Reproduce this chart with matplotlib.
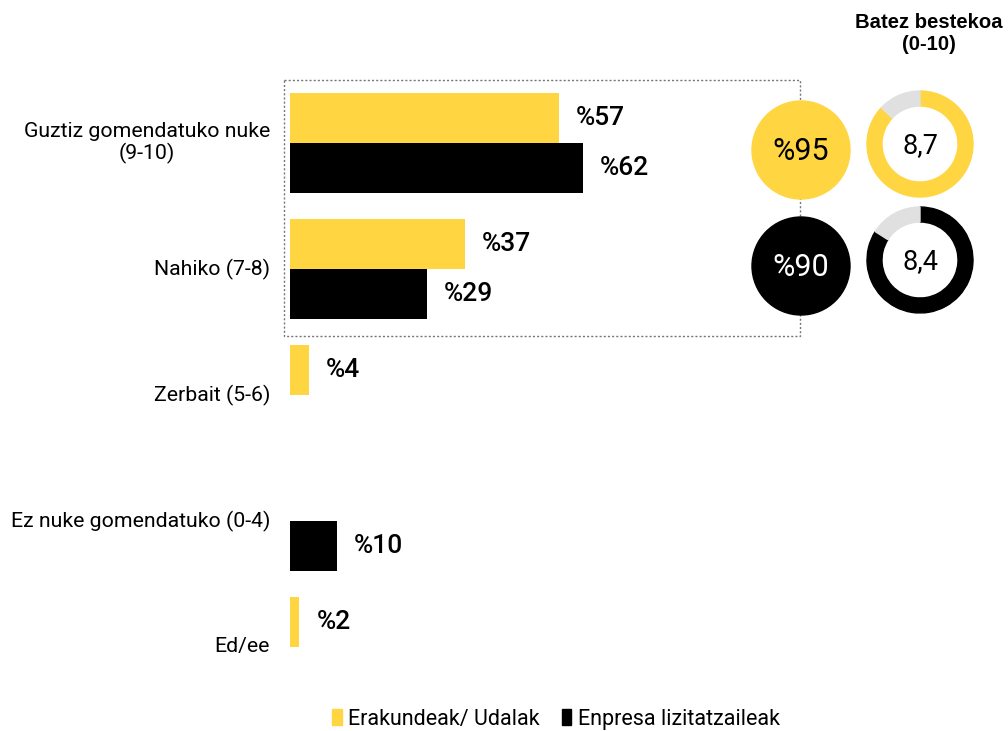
import matplotlib.pyplot as plt
from matplotlib.patches import Patch, Rectangle, Circle, Wedge

categories = ['Guztiz gomendatuko nuke\n(9-10)', 'Nahiko (7-8)', 'Zerbait (5-6)',
              'Ez nuke gomendatuko (0-4)', 'Ed/ee']
series_names = ['Erakundeak/ Udalak', 'Enpresa lizitatzaileak']
erakundeak = [57, 37, 4, 0, 2]
enpresak = [62, 29, 0, 10, 0]
totals = [95, 90]          # gomendatuko (7-10) guztira
averages = [8.7, 8.4]      # batez bestekoa (0-10)

YELLOW = '#ffd641'
BLACK = '#000000'
GREY = '#e0e0e0'

plt.rcParams['font.family'] = ['Roboto', 'DejaVu Sans']

W, H = 1008, 731
fig = plt.figure(figsize=(W / 100, H / 100), dpi=100)

# pixel-space axes for the box, circles and donuts (behind the bars)
cax = fig.add_axes([0, 0, 1, 1], facecolor='none', zorder=0)
cax.set_xlim(0, W)
cax.set_ylim(H, 0)
cax.axis('off')

# bars axes: x from pixel 290 to the right edge, y covers whole height
px_per_pct = 4.72
row_px = 126.0
ax = fig.add_axes([290 / W, 0, 1 - 290 / W, 1], facecolor='none', zorder=1)
ax.set_xlim(0, (W - 290) / px_per_pct)
ax.set_ylim((H - 143) / row_px, -143 / row_px)
ax.axis('off')

bar_h = 50 / row_px
for i, cat in enumerate(categories):
    for val, col, off in ((erakundeak[i], YELLOW, -bar_h / 2), (enpresak[i], BLACK, bar_h / 2)):
        if val <= 0:
            continue
        ax.barh(i + off, val, height=bar_h, color=col)
        ax.text(val + 17 / px_per_pct, i + off, f'%{val}', ha='left', va='center',
                fontsize=19, fontweight='medium', color='black')
    ax.text(-20 / px_per_pct, i, cat, ha='right', va='center', multialignment='center',
            fontsize=15.3, color='black', clip_on=False, linespacing=1.15)

# dotted box around the first two groups
cax.add_patch(Rectangle((284, 80), 800 - 284, 336 - 80, fill=False, edgecolor='#777777',
                        linestyle=(0, (1.5, 1.5)), linewidth=1.0, zorder=1))

circle_y = [150, 266]
colors = [YELLOW, BLACK]
text_cols = ['black', 'white']
for k in range(2):
    cax.add_patch(Circle((801, circle_y[k]), 49, color=colors[k], zorder=2))
    cax.text(801, circle_y[k] + 1, f'%{totals[k]}', ha='center', va='center',
             fontsize=22, fontweight='normal', color=text_cols[k], zorder=3)
    frac = averages[k] / 10
    cy = circle_y[k] - 6
    # y axis is flipped, so angles run clockwise; top is -90
    start = -90
    cax.add_patch(Wedge((920, cy), 53, start, start + 360 * frac, width=15,
                        color=colors[k], zorder=2))
    cax.add_patch(Wedge((920, cy), 53, start + 360 * frac, start + 360, width=15,
                        color=GREY, zorder=2))
    cax.text(920, cy + 2, f'{averages[k]:.1f}'.replace('.', ','), ha='center', va='center',
             fontsize=19.5, color='black', zorder=3)

cax.text(929, 33, 'Batez bestekoa\n(0-10)', ha='center', va='center', fontsize=14.6,
         fontweight='bold', family=['Liberation Sans', 'DejaVu Sans'], linespacing=1.2)

handles = [Patch(color=YELLOW), Patch(color=BLACK)]
fig.legend(handles, series_names, loc='center', bbox_to_anchor=(556 / W, 1 - 719 / H),
           ncol=2, frameon=False, fontsize=15.5, handlelength=0.45, handleheight=0.7,
           handletextpad=0.3, columnspacing=1.0)

fig.savefig('out.png', dpi=100)
